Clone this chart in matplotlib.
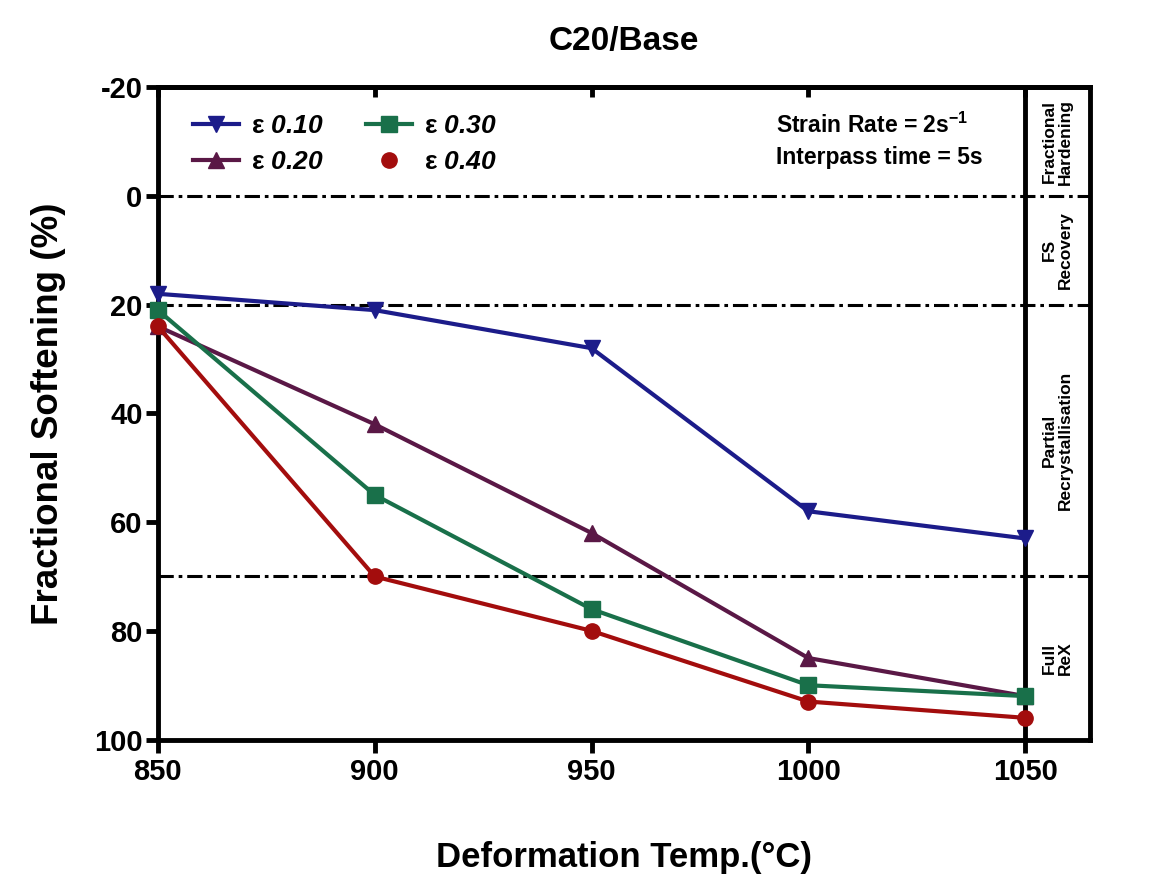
import matplotlib
matplotlib.use('Agg')
import matplotlib.pyplot as plt
from matplotlib.lines import Line2D

plt.rcParams['font.family'] = ['Liberation Sans', 'DejaVu Sans']
plt.rcParams['font.weight'] = 'bold'
plt.rcParams['axes.unicode_minus'] = False
plt.rcParams['mathtext.fontset'] = 'custom'
plt.rcParams['mathtext.rm'] = 'Liberation Sans:bold'
plt.rcParams['mathtext.bf'] = 'Liberation Sans:bold'
plt.rcParams['mathtext.it'] = 'Liberation Sans:italic:bold'
plt.rcParams['mathtext.bfit'] = 'Liberation Sans:italic:bold'

# Data
temps = [850, 900, 950, 1000, 1050]
fs_010 = [18, 21, 28, 58, 63]
fs_020 = [24, 42, 62, 85, 92]
fs_030 = [21, 55, 76, 90, 92]
fs_040 = [24, 70, 80, 93, 96]

labels = ['ε $\\mathbfit{0.10}$', 'ε $\\mathbfit{0.20}$', 'ε $\\mathbfit{0.30}$', 'ε $\\mathbfit{0.40}$']
colors = ['#1c1c8a', '#5a1846', '#19704a', '#a30d0d']
markers = ['v', '^', 's', 'o']
series = [fs_010, fs_020, fs_030, fs_040]

region_bounds = [0, 20, 70]
region_labels = ['Fractional\nHardening', 'FS\nRecovery', 'Partial\nRecrystallisation', 'Full\nReX']
region_mid = [-10, 10, 45, 85]

fig = plt.figure(figsize=(11.61, 8.90), dpi=100)
ax = fig.add_axes([0.136, 0.169, 0.803, 0.733])

for ys, c, m in zip(series, colors, markers):
    ax.plot(temps, ys, color=c, lw=3, marker=m, markersize=11, zorder=3, clip_on=False)

dashdot = (0, (5, 1.6, 1.2, 1.6))
for b in region_bounds:
    ax.axhline(b, color='black', lw=2.2, linestyle=dashdot, zorder=2)
ax.axvline(1050, color='black', lw=3.5, zorder=2)

for lab, ym in zip(region_labels, region_mid):
    ax.text(1057.5, ym, lab, rotation=90, ha='center', va='center',
            fontsize=12.5, fontweight='bold', linespacing=1.1)

ax.text(992.5, -10.1, 'Strain Rate = 2s$^{-1}$\nInterpass time = 5s',
        ha='left', va='center', fontsize=16.5, fontweight='bold', linespacing=1.45)

ax.set_xlim(850, 1065)
ax.set_ylim(100, -20)
ax.set_xticks(temps)
ax.set_yticks([-20, 0, 20, 40, 60, 80, 100])
ax.tick_params(axis='both', labelsize=21, width=3.5, length=9, direction='out')
ax.tick_params(axis='x', pad=4)
ax.tick_params(axis='y', pad=2)
for lbl in ax.get_xticklabels() + ax.get_yticklabels():
    lbl.set_fontweight('bold')
for sp in ax.spines.values():
    sp.set_linewidth(3.5)

# inward ticks along the top border
top = ax.secondary_xaxis('top')
top.set_xticks(temps)
top.tick_params(direction='in', length=7, width=3.5, labeltop=False)
top.spines['top'].set_linewidth(3.5)

ax.set_xlabel('Deformation Temp.(°C)', fontsize=25, fontweight='bold', labelpad=40)
ax.set_ylabel('Fractional Softening (%)', fontsize=26.5, fontweight='bold', labelpad=20)
ax.set_title('C20/Base', fontsize=24, fontweight='bold', pad=27)

handles = []
for i, (c, m) in enumerate(zip(colors, markers)):
    ls = 'none' if i == 3 else '-'
    handles.append(Line2D([], [], color=c, lw=3, marker=m, markersize=11, linestyle=ls))
leg = ax.legend(handles, labels, ncol=2, loc='upper left', frameon=False,
                prop={'size': 19, 'weight': 'bold'},
                bbox_to_anchor=(0.012, 0.995), handlelength=1.75, handletextpad=0.45,
                columnspacing=1.6, labelspacing=0.45)

fig.savefig('out.png', dpi=100)
